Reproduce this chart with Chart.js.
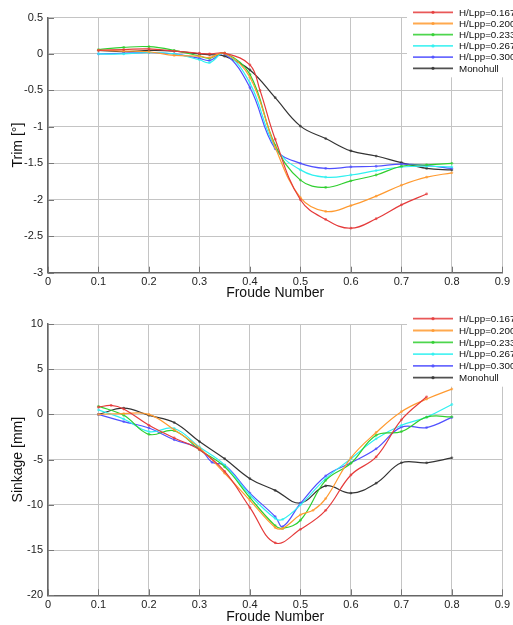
<!DOCTYPE html>
<html>
<head>
<meta charset="utf-8">
<script src="https://cdn.jsdelivr.net/npm/chart.js@4.4.1/dist/chart.umd.min.js"></script>
<style>
  html, body { margin: 0; padding: 0; background: #fff; }
  #wrap { position: relative; width: 513px; height: 625px; overflow: hidden; }
  canvas { position: absolute; left: 0; }
  #trimChart { top: 0; }
  #sinkChart { top: 300px; }
</style>
</head>
<body>
<div id="wrap">
  <canvas id="trimChart" width="513" height="300"></canvas>
  <canvas id="sinkChart" width="513" height="325"></canvas>
</div>
<script>
// series names and colours
const seriesLabels = ["H/Lpp=0.167", "H/Lpp=0.200", "H/Lpp=0.233", "H/Lpp=0.267", "H/Lpp=0.300", "Monohull"];
const seriesColors = ["#e53b3b", "#ff9a30", "#2fcf2f", "#2ff0f0", "#5050ff", "#333333"];

// trim [deg] vs Froude number (null = no measurement)
const trimFroude = [0.1, 0.15, 0.2, 0.25, 0.3, 0.32, 0.35, 0.4, 0.42, 0.45, 0.5, 0.55, 0.6, 0.65, 0.7, 0.75, 0.8];
const trim167 = [0.05, 0.06, 0.07, 0.04, 0.01, 0.0, 0.01, -0.15, -0.5, -1.17, -2.0, -2.27, -2.39, -2.26, -2.07, -1.92, null];
const trim200 = [0.05, 0.04, 0.03, -0.02, -0.03, -0.05, 0.01, -0.32, null, -1.28, -1.97, -2.16, -2.08, -1.95, -1.8, -1.69, -1.63];
const trim233 = [0.06, 0.09, 0.1, 0.05, -0.03, -0.06, 0.01, -0.28, null, -1.25, -1.73, -1.83, -1.74, -1.66, -1.54, -1.52, -1.5];
const trim267 = [0.0, 0.0, 0.02, 0.0, -0.08, -0.12, 0.01, -0.4, null, -1.28, -1.59, -1.69, -1.66, -1.6, -1.55, -1.54, -1.55];
const trim300 = [0.0, 0.01, 0.02, 0.0, -0.06, -0.09, 0.0, -0.46, null, -1.3, -1.5, -1.57, -1.55, -1.54, -1.51, -1.53, -1.57];
const trimMono = [0.05, 0.03, 0.05, 0.04, 0.0, -0.01, -0.03, -0.22, null, -0.6, -0.99, -1.16, -1.33, -1.4, -1.49, -1.57, -1.59];

// sinkage [mm] vs Froude number
const sinkFroude = [0.1, 0.125, 0.15, 0.2, 0.25, 0.3, 0.325, 0.35, 0.4, 0.45, 0.465, 0.5, 0.525, 0.55, 0.6, 0.65, 0.7, 0.75, 0.8];
const sink167 = [0.8, 1.0, 0.6, -1.2, -2.6, -3.9, null, -6.3, -10.3, -14.2, null, -12.7, null, -10.6, -6.7, -4.7, -0.6, 1.95, null];
const sink200 = [0.0, null, 0.1, 0.0, -1.7, -3.7, null, -6.5, -9.5, -12.5, -12.6, -11.1, -10.6, -9.3, -4.8, -2.0, 0.3, 1.7, 2.8];
const sink233 = [0.9, null, -0.1, -2.2, -1.8, -3.9, null, -5.8, -9.2, -12.3, -12.6, -11.7, null, -7.3, -5.4, -2.3, -1.9, -0.3, -0.26];
const sink267 = [0.5, null, -0.5, -1.9, -1.55, -3.6, null, -5.6, -8.9, -11.5, -11.6, -10.0, null, -7.1, -4.9, -2.7, -1.2, -0.3, 1.1];
const sink300 = [0.0, null, -0.8, -1.5, -2.8, -3.75, -5.3, -5.6, -8.7, -11.3, -12.4, -9.85, null, -6.8, -5.35, -3.8, -1.4, -1.45, -0.33];
const sinkMono = [0.0, null, 0.7, -0.1, -0.9, -3.0, null, -4.9, -7.1, -8.4, null, -9.8, null, -7.9, -8.7, -7.6, -5.35, -5.35, -4.8];

// axis tick labels
const froudeTicks = ["0", "0.1", "0.2", "0.3", "0.4", "0.5", "0.6", "0.7", "0.8", "0.9"];
const trimTicks = ["0.5", "0", "-0.5", "-1", "-1.5", "-2", "-2.5", "-3"];
const sinkTicks = ["10", "5", "0", "-5", "-10", "-15", "-20"];

Chart.defaults.font.family = '"Liberation Sans", Arial, sans-serif';
Chart.defaults.color = "#222";

function isMultiple(v, step) {
  const r = v / step;
  return Math.abs(r - Math.round(r)) < 1e-6;
}

function pickLabel(list, v) {
  return list.find((t) => Math.abs(parseFloat(t) - v) < 1e-6) ?? null;
}

function makeDatasets(froude, series) {
  return series.map((vals, i) => ({
    label: seriesLabels[i],
    data: froude.map((f, j) => ({ x: f, y: vals[j] })),
    borderColor: seriesColors[i],
    backgroundColor: seriesColors[i],
    borderWidth: 1.2,
    pointRadius: 1.4,
    pointBorderWidth: 0,
    pointBackgroundColor: seriesColors[i] + "aa",
    tension: 0.4,
    spanGaps: true,
    fill: false,
  }));
}

// small inward tick marks along the left and bottom axes
const innerTicks = {
  id: "innerTicks",
  afterDatasetsDraw(chart, args, opts) {
    const { ctx, chartArea } = chart;
    const xs = chart.scales.x;
    const ys = chart.scales.y;
    ctx.save();
    ctx.strokeStyle = "#777";
    ctx.lineWidth = 1;
    xs.ticks.forEach((t) => {
      const px = Math.round(xs.getPixelForValue(t.value)) + 0.5;
      const len = isMultiple(t.value, 0.1) ? 6 : 4;
      ctx.beginPath();
      ctx.moveTo(px, chartArea.bottom);
      ctx.lineTo(px, chartArea.bottom - len);
      ctx.stroke();
    });
    ys.ticks.forEach((t) => {
      const py = Math.round(ys.getPixelForValue(t.value)) + 0.5;
      const len = isMultiple(t.value, opts.yMajor) ? 6 : 4;
      ctx.beginPath();
      ctx.moveTo(chartArea.left, py);
      ctx.lineTo(chartArea.left + len, py);
      ctx.stroke();
    });
    ctx.restore();
  },
};

// legend box in the top right corner, white background over the grid
const boxLegend = {
  id: "boxLegend",
  afterDraw(chart, args, opts) {
    const ctx = chart.ctx;
    const sets = chart.data.datasets;
    ctx.save();
    ctx.fillStyle = "#fff";
    const h = opts.firstRow - opts.top + (sets.length - 1) * opts.rowGap + 9;
    ctx.fillRect(opts.left, opts.top, chart.width - opts.left, h);
    ctx.font = '9.8px "Liberation Sans", Arial, sans-serif';
    ctx.textBaseline = "middle";
    ctx.textAlign = "left";
    sets.forEach((ds, i) => {
      const y = opts.firstRow + i * opts.rowGap;
      ctx.strokeStyle = ds.borderColor;
      ctx.globalAlpha = 0.85;
      ctx.lineWidth = 1.8;
      ctx.beginPath();
      ctx.moveTo(opts.left + 6, y);
      ctx.lineTo(opts.left + 46, y);
      ctx.stroke();
      ctx.fillStyle = ds.borderColor;
      ctx.beginPath();
      ctx.arc(opts.left + 26, y, 1.6, 0, Math.PI * 2);
      ctx.fill();
      ctx.globalAlpha = 1;
      ctx.fillStyle = "#111";
      ctx.fillText(ds.label, opts.left + 52, y + 0.5);
    });
    ctx.restore();
  },
};

function gridColor(step) {
  return (c) => (c.tick && isMultiple(c.tick.value, step) ? "#c4c4c4" : "#ececec");
}

function buildChart(id, cfg) {
  return new Chart(document.getElementById(id), {
    type: "line",
    data: { datasets: makeDatasets(cfg.froude, cfg.series) },
    plugins: [innerTicks, boxLegend],
    options: {
      responsive: false,
      animation: false,
      layout: { padding: { top: cfg.padTop, right: 8, left: 0, bottom: 0 } },
      plugins: {
        legend: { display: false },
        tooltip: { enabled: false },
        innerTicks: { yMajor: cfg.yMajor },
        boxLegend: cfg.legend,
      },
      scales: {
        x: {
          type: "linear",
          min: 0,
          max: 0.9,
          afterFit: (s) => { s.height = cfg.xAxisHeight; },
          ticks: {
            stepSize: 0.02,
            autoSkip: false,
            maxRotation: 0,
            padding: 3,
            font: { size: 11 },
            callback: (v) => (isMultiple(v, 0.1) ? pickLabel(froudeTicks, v) : null),
          },
          grid: { color: gridColor(0.1), drawTicks: false, lineWidth: 1 },
          border: { color: "#666", width: 1.5 },
          title: {
            display: true,
            text: "Froude Number",
            font: { size: 14, lineHeight: 1 },
            color: "#111",
            padding: { top: 0, bottom: cfg.xTitlePad },
          },
        },
        y: {
          min: cfg.yMin,
          max: cfg.yMax,
          afterFit: (s) => { s.width = 48; },
          ticks: {
            stepSize: cfg.yMinor,
            autoSkip: false,
            padding: 5,
            font: { size: 11 },
            callback: (v) => (isMultiple(v, cfg.yMajor) ? pickLabel(cfg.yTicks, v) : null),
          },
          grid: { color: gridColor(cfg.yMajor), drawTicks: false, lineWidth: 1 },
          border: { color: "#666", width: 1.5 },
          title: {
            display: true,
            text: cfg.yTitle,
            font: { size: 14, lineHeight: 1 },
            color: "#111",
            padding: { top: 11, bottom: 0 },
          },
        },
      },
    },
  });
}

buildChart("trimChart", {
  froude: trimFroude,
  series: [trim167, trim200, trim233, trim267, trim300, trimMono],
  yMin: -3, yMax: 0.5, yMinor: 0.1, yMajor: 0.5, yTicks: trimTicks,
  yTitle: "Trim [°]",
  padTop: 17.5, xAxisHeight: 27.3, xTitlePad: 0,
  legend: { left: 407, top: 0, firstRow: 12.3, rowGap: 11.2 },
});

buildChart("sinkChart", {
  froude: sinkFroude,
  series: [sink167, sink200, sink233, sink267, sink300, sinkMono],
  yMin: -20, yMax: 10, yMinor: 1, yMajor: 5, yTicks: sinkTicks,
  yTitle: "Sinkage [mm]",
  padTop: 24, xAxisHeight: 29.7, xTitlePad: 1,
  legend: { left: 407, top: 9, firstRow: 18.7, rowGap: 11.8 },
});
</script>
</body>
</html>
